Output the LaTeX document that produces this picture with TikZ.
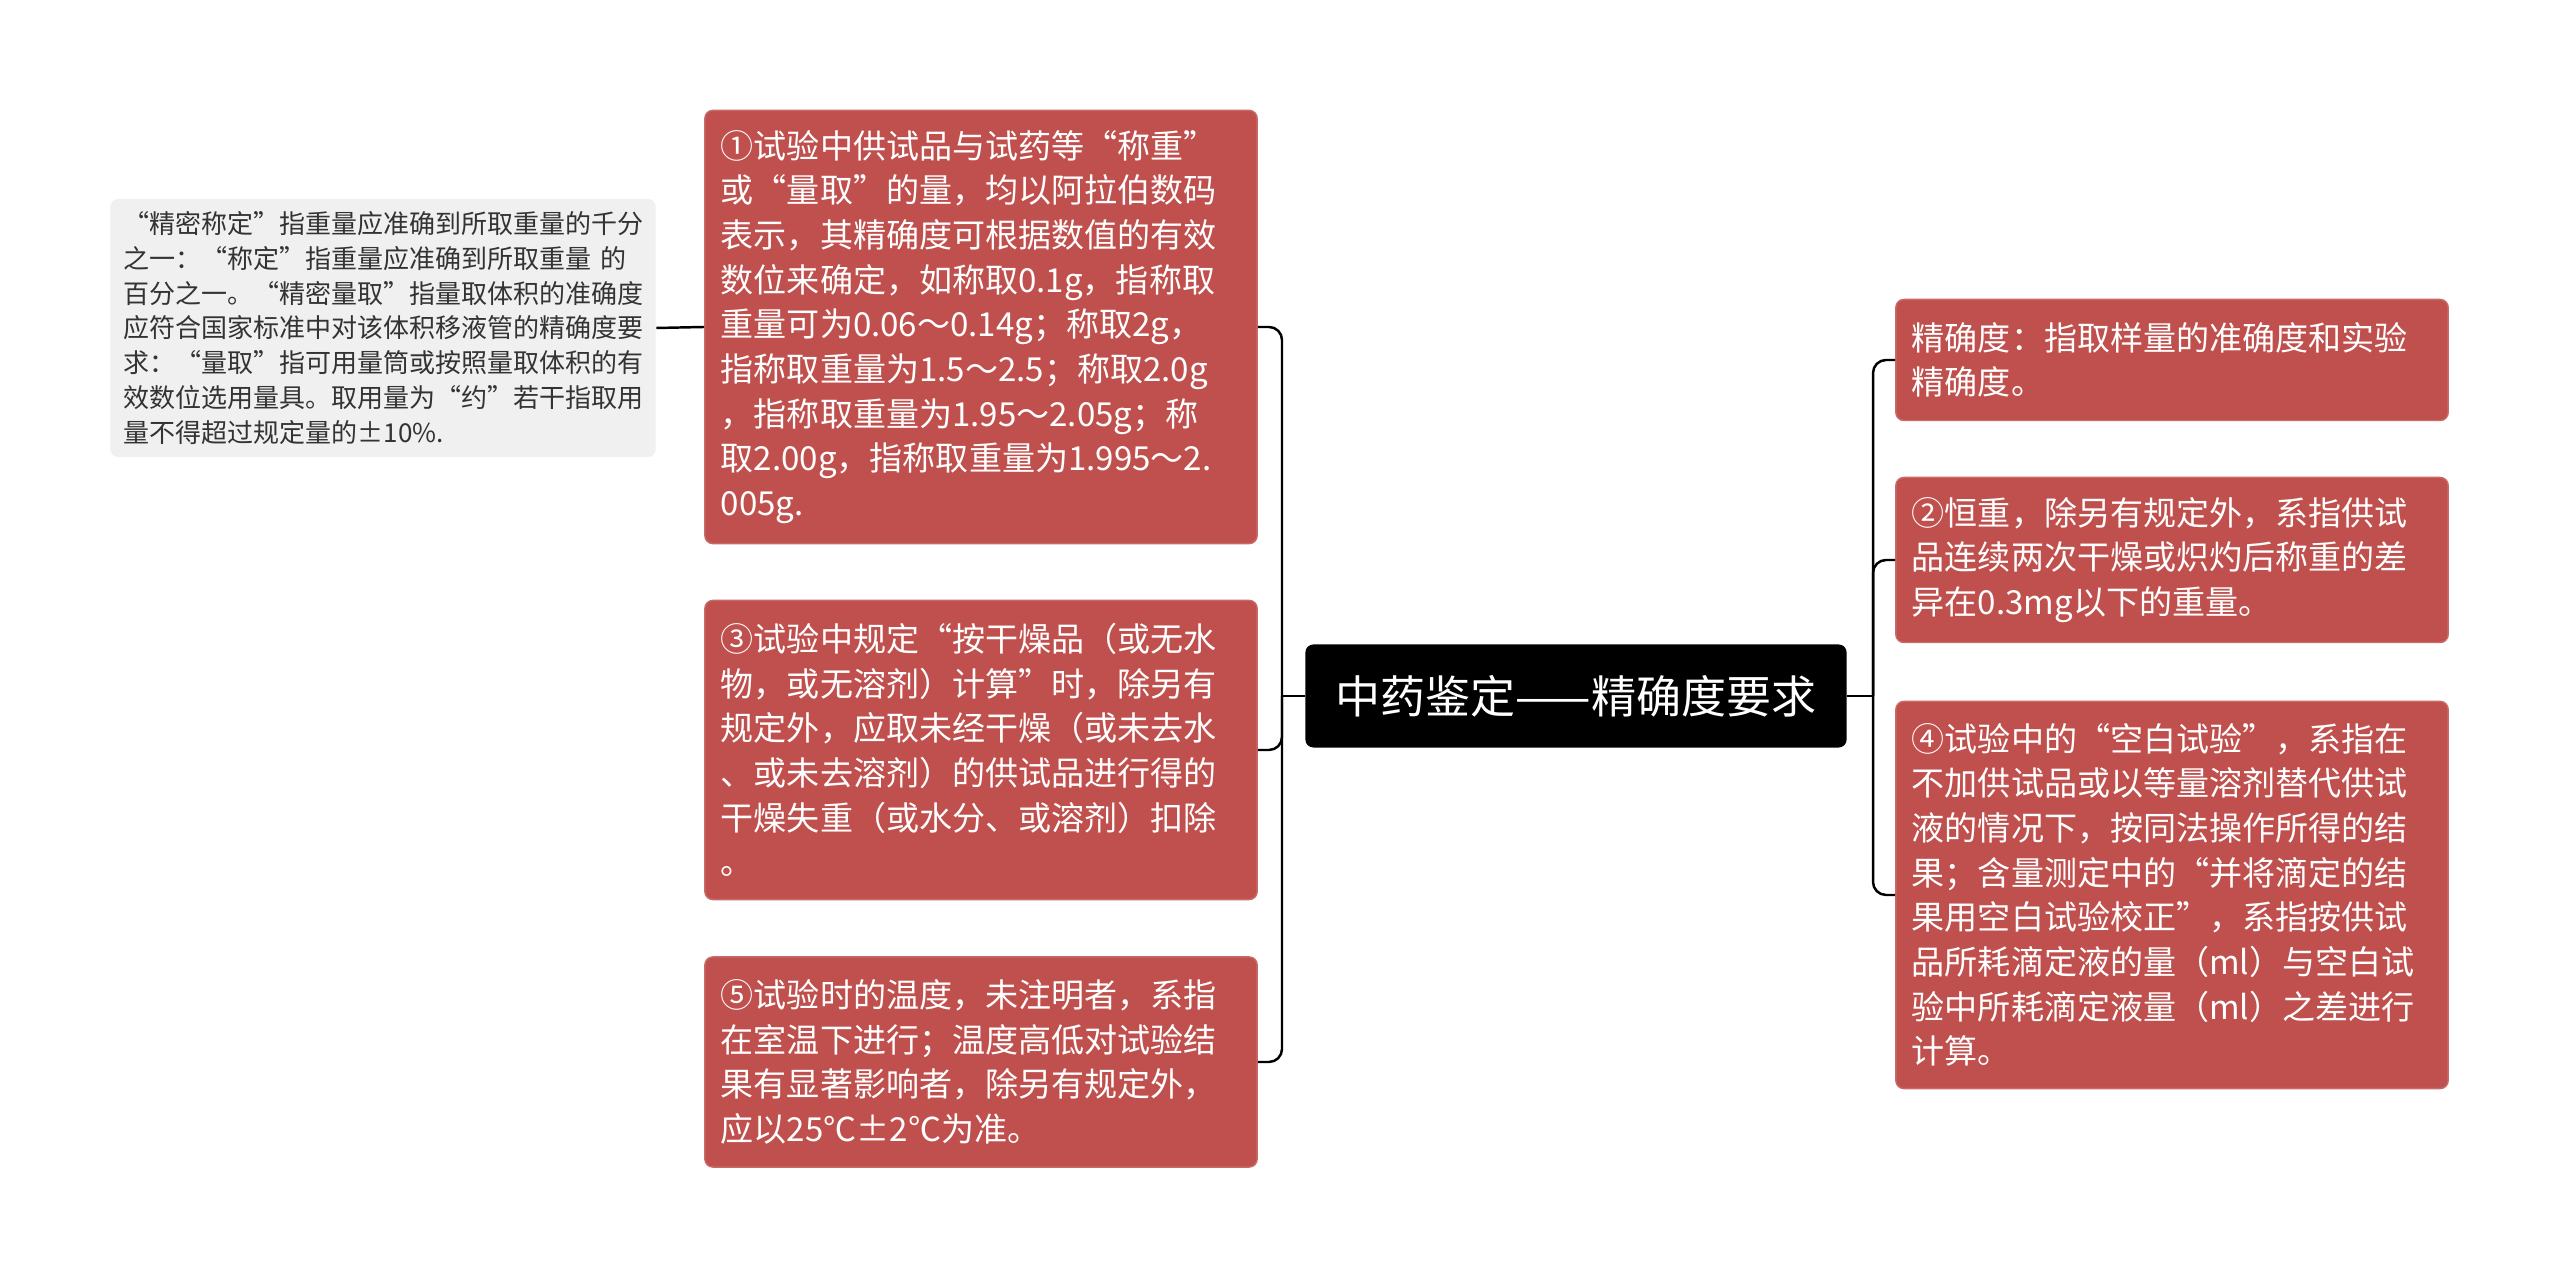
\documentclass[tikz,border=0pt]{standalone}
\usepackage{fontspec}
\setmainfont{Noto Sans CJK SC}
\usepackage{xcolor}
\usepackage{tikz}
\definecolor{leafcolor}{RGB}{192,80,77}
\definecolor{notecolor}{RGB}{240,240,240}
\tikzset{leafnode/.style={fill=leafcolor,draw=leafcolor!85!white,rounded corners=0.8mm,text=white,align=left,inner xsep=0.16cm,text width=5.2cm,font=\fontsize{9.4}{12.7}\selectfont}}
\tikzset{rootnode/.style={fill=black,rounded corners=0.8mm,text=white,minimum width=5.41cm,minimum height=1.03cm,font=\fontsize{12.8}{14}\selectfont}}
\tikzset{notenode/.style={fill=notecolor,rounded corners=0.8mm,text=black!80,align=left,inner xsep=0.13cm,text width=5.19cm,minimum height=2.58cm,font=\fontsize{7.4}{9.9}\selectfont}}
\tikzset{branch/.style={draw=black,line width=0.7pt,rounded corners=1.3mm}}

\begin{document}
\begin{tikzpicture}[x=0.01cm,y=-0.01cm]
		\fill[white] (0,0) rectangle (2560,1280);
		\useasboundingbox (0,0) rectangle (2560,1280);
		%
		\node[rootnode] (root) at (1576,696) {中药鉴定——精确度要求};
		%
		\node[leafnode,minimum height=4.33cm] (b1) at (981,327) {①试验中供试品与试药等“称重”\\或“量取”的量，均以阿拉伯数码\\表示，其精确度可根据数值的有效\\数位来确定，如称取0.1g，指称取\\重量可为0.06～0.14g；称取2g，\\指称取重量为1.5～2.5；称取2.0g\\，指称取重量为1.95～2.05g；称\\取2.00g，指称取重量为1.995～2.\\005g.};
		\node[leafnode,minimum height=2.99cm] (b3) at (981,750) {③试验中规定“按干燥品（或无水\\物，或无溶剂）计算”时，除另有\\规定外，应取未经干燥（或未去水\\、或未去溶剂）的供试品进行得的\\干燥失重（或水分、或溶剂）扣除\\。};
		\node[leafnode,minimum height=2.10cm] (b5) at (981,1062) {⑤试验时的温度，未注明者，系指\\在室温下进行；温度高低对试验结\\果有显著影响者，除另有规定外，\\应以25℃±2℃为准。};
		\node[notenode] (note) at (383,328) {“精密称定”指重量应准确到所取重量的千分\\之一：“称定”指重量应准确到所取重量 的\\百分之一。“精密量取”指量取体积的准确度\\应符合国家标准中对该体积移液管的精确度要\\求：“量取”指可用量筒或按照量取体积的有\\效数位选用量具。取用量为“约”若干指取用\\量不得超过规定量的±10\%.};
		%
		\node[leafnode,minimum height=1.21cm] (p1) at (2172,360) {精确度：指取样量的准确度和实验\\精确度。};
		\node[leafnode,minimum height=1.65cm] (p2) at (2172,560) {②恒重，除另有规定外，系指供试\\品连续两次干燥或炽灼后称重的差\\异在0.3mg以下的重量。};
		\node[leafnode,minimum height=3.87cm] (p4) at (2172,895) {④试验中的“空白试验”，系指在\\不加供试品或以等量溶剂替代供试\\液的情况下，按同法操作所得的结\\果；含量测定中的“并将滴定的结\\果用空白试验校正”，系指按供试\\品所耗滴定液的量（ml）与空白试\\验中所耗滴定液量（ml）之差进行\\计算。};
		%
		\coordinate (ltrunk) at (1282,696);
		\coordinate (rtrunk) at (1873,696);
		%
		\draw[branch] (root.west) -- (ltrunk);
		\draw[branch] (ltrunk) |- (b1.east);
		\draw[branch] (ltrunk) |- (b3.east);
		\draw[branch] (ltrunk) |- (b5.east);
		\draw[branch] (root.east) -- (rtrunk);
		\draw[branch] (rtrunk) |- (p1.west);
		\draw[branch] (rtrunk) |- (p2.west);
		\draw[branch] (rtrunk) |- (p4.west);
		\draw[branch] (note.east) -- (b1.west);
	\end{tikzpicture}
\end{document}
